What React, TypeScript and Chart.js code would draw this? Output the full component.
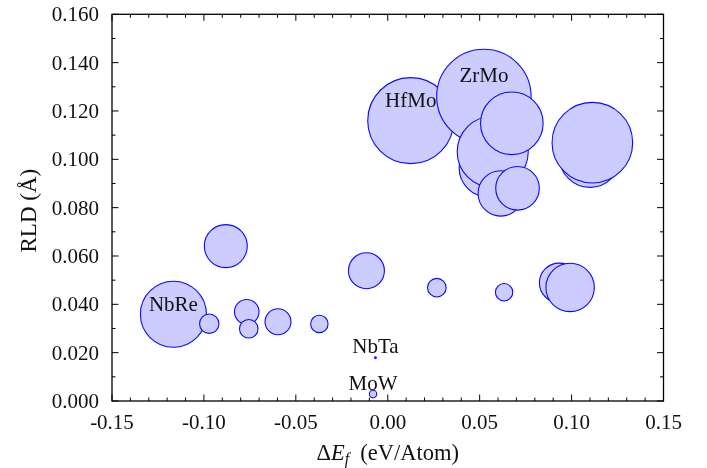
import React, { useEffect, useRef } from "react";
import { Chart, registerables } from "chart.js";

Chart.register(...registerables);

// ---- data ----
const formationEnergy = [
  -0.1166, -0.0971, -0.0881, -0.0767, -0.0756, -0.0597, -0.0372, -0.0116,
  -0.0067, -0.008, 0.0267, 0.0633, 0.0932, 0.0992,
  0.0125, 0.0523, 0.0546, 0.0571, 0.0675, 0.0615, 0.0706, 0.110, 0.1113,
];
const rld = [
  0.0359, 0.032, 0.0641, 0.0369, 0.0299, 0.0328, 0.0319, 0.0539,
  0.0179, 0.0029, 0.0469, 0.045, 0.0489, 0.047,
  0.116, 0.126, 0.0965, 0.1031, 0.1149, 0.0859, 0.088, 0.101, 0.1069,
];
const bubbleSize = [
  33, 9.7, 21.5, 12.3, 9.3, 13, 8.7, 18,
  0.9, 3.7, 9.3, 8.7, 19.7, 24.2,
  43, 47.2, 29, 35.5, 31.3, 22.7, 21.8, 30.5, 40.3,
];
const pointNames = [
  "NbRe", "", "", "", "", "", "", "",
  "NbTa", "MoW", "", "", "", "",
  "HfMo", "ZrMo", "", "", "", "", "", "", "",
];
const labelLift = [
  3.5, 0, 0, 0, 0, 0, 0, 0,
  4.5, 4, 0, 0, 0, 0,
  13.5, 14, 0, 0, 0, 0, 0, 0, 0,
];
const xTicks = [-0.15, -0.1, -0.05, 0, 0.05, 0.1, 0.15];
const yTicks = [0, 0.02, 0.04, 0.06, 0.08, 0.1, 0.12, 0.14, 0.16];
const xMinorStep = 0.01;
const yMinorStep = 0.01;

const FONT = '"Liberation Serif", "Times New Roman", serif';
const TEXT = "#111";

const decorPlugin = {
  id: "decor",
  afterDatasetsDraw(chart: any) {
    const ctx = chart.ctx;
    const meta = chart.getDatasetMeta(0);
    ctx.save();
    ctx.fillStyle = TEXT;
    ctx.font = `21px ${FONT}`;
    ctx.textAlign = "center";
    ctx.textBaseline = "alphabetic";
    meta.data.forEach((el: any, i: number) => {
      const name = pointNames[i];
      if (!name) return;
      ctx.fillText(name, el.x, el.y - labelLift[i]);
    });
    ctx.restore();
  },
  afterDraw(chart: any) {
    const ctx = chart.ctx;
    const { left, right, top, bottom } = chart.chartArea;
    const xs = chart.scales.x;
    const ys = chart.scales.y;
    ctx.save();
    ctx.strokeStyle = "#000";
    ctx.lineWidth = 1.3;
    ctx.strokeRect(left, top, right - left, bottom - top);

    ctx.lineWidth = 1;
    const major = 6.5;
    const minor = 3.5;
    const isMajor = (v: number, arr: number[]) =>
      arr.some((t) => Math.abs(t - v) < 1e-6);
    for (let k = -15; k <= 15; k++) {
      const v = k * xMinorStep;
      const px = xs.getPixelForValue(v);
      const len = isMajor(v, xTicks) ? major : minor;
      ctx.beginPath();
      ctx.moveTo(px, bottom);
      ctx.lineTo(px, bottom - len);
      ctx.moveTo(px, top);
      ctx.lineTo(px, top + len);
      ctx.stroke();
    }
    for (let k = 0; k <= 16; k++) {
      const v = k * yMinorStep;
      const py = ys.getPixelForValue(v);
      const len = isMajor(v, yTicks) ? major : minor;
      ctx.beginPath();
      ctx.moveTo(left, py);
      ctx.lineTo(left + len, py);
      ctx.moveTo(right, py);
      ctx.lineTo(right - len, py);
      ctx.stroke();
    }

    // tick labels
    ctx.fillStyle = TEXT;
    ctx.font = `21px ${FONT}`;
    ctx.textBaseline = "alphabetic";
    ctx.textAlign = "center";
    xTicks.forEach((v) => {
      ctx.fillText(v.toFixed(2), xs.getPixelForValue(v), bottom + 28);
    });
    ctx.textAlign = "right";
    yTicks.forEach((v) => {
      ctx.fillText(v.toFixed(3), left - 13, ys.getPixelForValue(v) + 7);
    });

    // x title: ΔE_f (eV/Atom)
    ctx.textAlign = "left";
    const up = `22.5px ${FONT}`;
    const it = `italic 22.5px ${FONT}`;
    const sub = `italic 16px ${FONT}`;
    const parts = [
      { t: "Δ", f: up, dy: 0 },
      { t: "E", f: it, dy: 0 },
      { t: "f", f: sub, dy: 4 },
      { t: "  (eV/Atom)", f: up, dy: 0 },
    ];
    let total = 0;
    parts.forEach((p) => {
      ctx.font = p.f;
      total += ctx.measureText(p.t).width;
    });
    let cx = (left + right) / 2 - total / 2;
    const base = 460;
    parts.forEach((p) => {
      ctx.font = p.f;
      ctx.fillText(p.t, cx, base + p.dy);
      cx += ctx.measureText(p.t).width;
    });

    // y title
    ctx.save();
    ctx.translate(36, (top + bottom) / 2 + 3);
    ctx.rotate(-Math.PI / 2);
    ctx.textAlign = "center";
    ctx.font = `23px ${FONT}`;
    ctx.fillText("RLD (Å)", 0, 0);
    ctx.restore();

    ctx.restore();
  },
};

export default function App() {
  const ref = useRef<HTMLCanvasElement>(null);
  useEffect(() => {
    document.body.style.margin = "0";
    const points = formationEnergy.map((x, i) => ({ x, y: rld[i], r: bubbleSize[i] }));
    const chart = new Chart(ref.current as HTMLCanvasElement, {
      type: "bubble",
      data: {
        datasets: [
          {
            data: points,
            backgroundColor: "rgba(204,204,255,1)",
            borderColor: "rgb(10,10,255)",
            borderWidth: 1.1,
            hoverRadius: 0,
          } as any,
        ],
      },
      options: {
        responsive: false,
        animation: false,
        events: [],
        layout: {
          autoPadding: false,
          padding: { top: 14.3, right: 43.5, left: 112, bottom: 67 },
        },
        plugins: { legend: { display: false }, tooltip: { enabled: false } },
        scales: {
          x: {
            type: "linear",
            min: -0.15,
            max: 0.15,
            display: false,
          },
          y: {
            type: "linear",
            min: 0,
            max: 0.16,
            display: false,
          },
        },
      },
      plugins: [decorPlugin],
    });
    return () => chart.destroy();
  }, []);
  return (
    <canvas
      ref={ref}
      width={707}
      height={468}
      style={{ position: "absolute", left: 0, top: 0, width: 707, height: 468 }}
    />
  );
}
